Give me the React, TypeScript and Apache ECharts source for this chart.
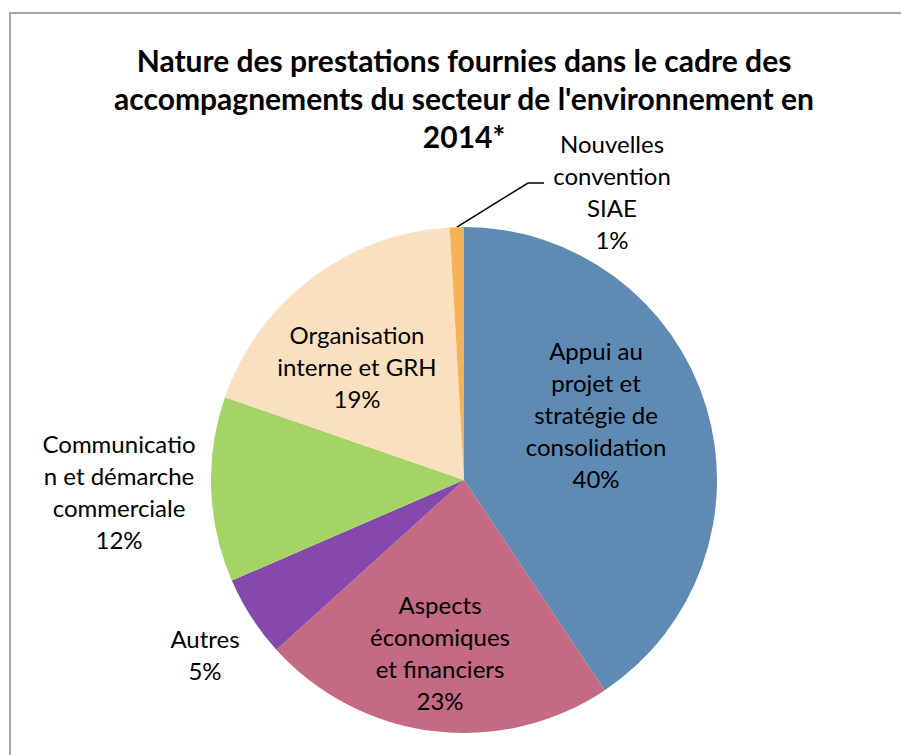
import React, { useEffect, useRef } from "react";
import * as echarts from "echarts";

const titleLines = [
  "Nature des prestations fournies dans le cadre des",
  "accompagnements du secteur de l'environnement en",
  "2014*",
];

const categories = [
  "Appui au\nprojet et\nstratégie de\nconsolidation",
  "Aspects\néconomiques\net financiers",
  "Autres",
  "Communicatio\nn et démarche\ncommerciale",
  "Organisation\ninterne et GRH",
  "Nouvelles\nconvention\nSIAE",
];

const values = [40.6, 22.7, 5.2, 11.8, 18.8, 0.9];

const colors = ["#5E8AB4", "#C46A82", "#8549AD", "#A3D464", "#FBE0C0", "#F5B256"];

// layout (not data)
const CX = 464;
const CY = 480;
const R = 253;
const labelPos: [number, number][] = [
  [596, 414],
  [440, 652],
  [205, 654],
  [119, 491],
  [357, 366],
  [612, 191],
];

export default function App() {
  const ref = useRef<HTMLDivElement>(null);
  useEffect(() => {
    if (!ref.current) return;
    const chart = echarts.init(ref.current, undefined, { renderer: "svg" });
    const FONT = "Lato";
    const total = values.reduce((a, b) => a + b, 0);
    chart.setOption({
      animation: false,
      backgroundColor: "#ffffff",
      title: {
        text: titleLines.join("\n"),
        left: 464,
        top: 41,
        textAlign: "center",
        padding: 0,
        textStyle: {
          fontFamily: FONT,
          fontWeight: "bold",
          fontSize: 30,
          lineHeight: 38,
          color: "#000000",
        },
      },
      graphic: [
        {
          type: "line",
          z: -10,
          shape: { x1: 10, y1: 12, x2: 10, y2: 755 },
          style: { stroke: "#a6a6a6", lineWidth: 2 },
          silent: true,
        },
        {
          type: "line",
          z: -10,
          shape: { x1: 9, y1: 13, x2: 901, y2: 13 },
          style: { stroke: "#a6a6a6", lineWidth: 2 },
          silent: true,
        },
      ],
      series: [
        {
          type: "pie",
          center: [CX, CY],
          radius: R,
          startAngle: 90,
          clockwise: true,
          avoidLabelOverlap: false,
          percentPrecision: 0,
          itemStyle: { borderWidth: 0 },
          label: {
            show: true,
            position: "outside",
            formatter: "{b}\n{d}%",
            fontFamily: FONT,
            fontSize: 24,
            lineHeight: 32,
            color: "#000000",
            align: "center",
          },
          labelLine: { show: false },
          labelLayout: (params: any) => {
            const i = params.dataIndex;
            const p = labelPos[i];
            const out: any = { x: p[0], y: p[1], align: "center", verticalAlign: "middle" };
            if (i === values.length - 1) {
              let before = 0;
              for (let k = 0; k < i; k++) before += values[k];
              const midFrac = (before + values[i] / 2) / total;
              const ang = midFrac * Math.PI * 2;
              const ax = CX + R * Math.sin(ang);
              const ay = CY - R * Math.cos(ang);
              out.labelLinePoints = [
                [ax, ay],
                [528, 183],
                [544, 183],
              ];
            }
            return out;
          },
          data: categories.map((name, i) => ({
            name,
            value: values[i],
            itemStyle: { color: colors[i] },
            labelLine:
              i === values.length - 1
                ? { show: true, length: 20, length2: 20, lineStyle: { color: "#000", width: 1.5 } }
                : { show: false },
          })),
        },
      ],
    });
    return () => chart.dispose();
  }, []);
  return (
    <div
      ref={ref}
      style={{
        position: "absolute",
        left: 0,
        top: 0,
        width: 901,
        height: 755,
        overflow: "hidden",
        background: "#fff",
      }}
    />
  );
}
